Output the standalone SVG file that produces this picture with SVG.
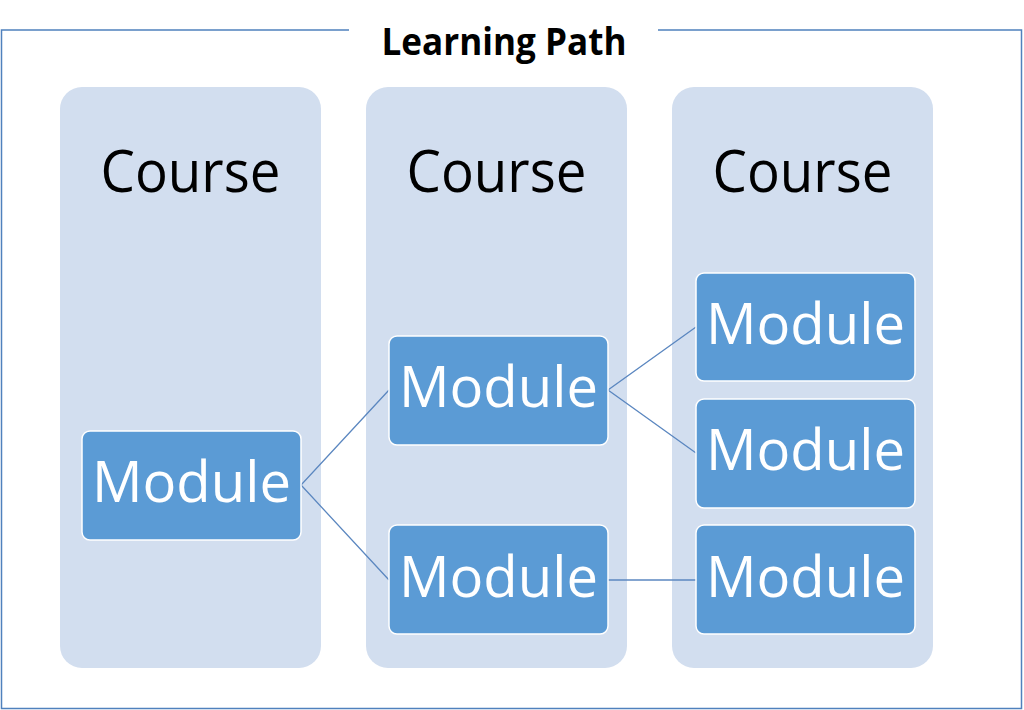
<svg xmlns="http://www.w3.org/2000/svg" width="1024" height="710" viewBox="0 0 1024 710">
<style>
.frame{fill:none;stroke:#4F81BD;stroke-width:1.5}
.course{fill:#D2DEEF}
.ctext{font-family:"Open Sans","Liberation Sans",sans-serif;font-size:58px;fill:#000;text-anchor:middle}
.module{fill:#5B9BD5;stroke:#FFFFFF;stroke-width:1.5}
.mtext{font-family:"Open Sans","Liberation Sans",sans-serif;font-size:56px;fill:#FFFFFF;text-anchor:middle}
.title{font-family:"Open Sans","Liberation Sans",sans-serif;font-size:37px;font-weight:bold;fill:#000;text-anchor:middle}
.conn{fill:none;stroke:#5B87C0;stroke-width:1.3}
</style>
<rect width="1024" height="710" fill="#FFFFFF"/>
<g id="frame">
<path class="frame" d="M349,30 H1.5 V708.5 H1021.5 V30 H658"/>
<text class="title" x="504" y="55" textLength="245" lengthAdjust="spacingAndGlyphs">Learning Path</text>
</g>
<g id="course1">
<rect class="course" x="60" y="87" width="261" height="581" rx="22"/>
<text class="ctext" x="190.5" y="192" textLength="180" lengthAdjust="spacingAndGlyphs">Course</text>
</g>
<g id="course2">
<rect class="course" x="366" y="87" width="261" height="581" rx="22"/>
<text class="ctext" x="496.5" y="192" textLength="180" lengthAdjust="spacingAndGlyphs">Course</text>
</g>
<g id="course3">
<rect class="course" x="672" y="87" width="261" height="581" rx="22"/>
<text class="ctext" x="802.5" y="192" textLength="180" lengthAdjust="spacingAndGlyphs">Course</text>
</g>
<g id="connectors">
<polyline class="conn" points="389,390 301,485 389,580"/>
<polyline class="conn" points="696,327 608,390 696,453"/>
<line class="conn" x1="608" y1="580" x2="696" y2="580"/>
</g>
<g id="module1">
<rect class="module" x="82" y="431" width="219" height="109" rx="8"/>
<text class="mtext" x="191.5" y="502" textLength="199" lengthAdjust="spacingAndGlyphs">Module</text>
</g>
<g id="module2">
<rect class="module" x="389" y="336" width="219" height="109" rx="8"/>
<text class="mtext" x="498.5" y="407" textLength="199" lengthAdjust="spacingAndGlyphs">Module</text>
</g>
<g id="module3">
<rect class="module" x="389" y="525" width="219" height="109" rx="8"/>
<text class="mtext" x="498.5" y="597" textLength="199" lengthAdjust="spacingAndGlyphs">Module</text>
</g>
<g id="module4">
<rect class="module" x="696" y="273" width="219" height="108" rx="8"/>
<text class="mtext" x="805.5" y="344" textLength="199" lengthAdjust="spacingAndGlyphs">Module</text>
</g>
<g id="module5">
<rect class="module" x="696" y="399" width="219" height="109" rx="8"/>
<text class="mtext" x="805.5" y="470" textLength="199" lengthAdjust="spacingAndGlyphs">Module</text>
</g>
<g id="module6">
<rect class="module" x="696" y="525" width="219" height="109" rx="8"/>
<text class="mtext" x="805.5" y="597" textLength="199" lengthAdjust="spacingAndGlyphs">Module</text>
</g>
</svg>
